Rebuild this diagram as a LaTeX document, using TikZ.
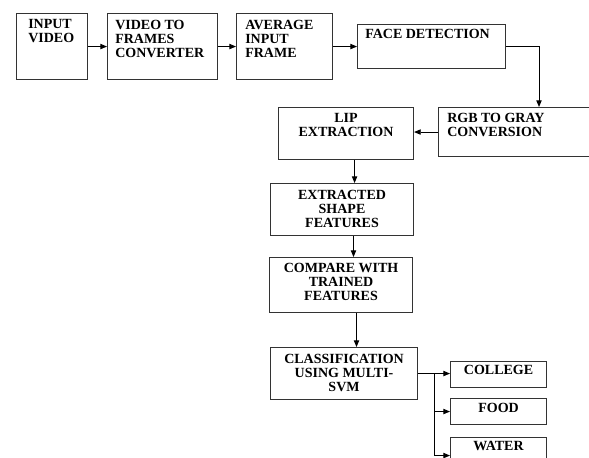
\documentclass[tikz,border=0pt]{standalone}
\usepackage{fontspec}
\setmainfont{Liberation Serif}
\usetikzlibrary{arrows.meta}

\tikzset{
  blk/.style={draw=black!80, line width=0.8pt, anchor=north west, inner sep=0pt},
  lbl/.style={inner sep=0pt, font=\fontsize{10.5}{10.5}\selectfont\bfseries},
  arr/.style={-{Triangle[length=5pt,width=4pt]}, line width=0.7pt},
}

\begin{document}
\begin{tikzpicture}[x=0.75pt,y=0.75pt,yscale=-1,xscale=1]
\clip (0,0) rectangle (589,457);

% Blocks
\node[blk, minimum width=53.25pt, minimum height=49.5pt] (vid) at (16,13) {};
\node[blk, minimum width=82.5pt, minimum height=49.5pt] (frm) at (107,13) {};
\node[blk, minimum width=72pt, minimum height=49.5pt] (avg) at (236,13) {};
\node[blk, minimum width=111pt, minimum height=33pt] (face) at (357,24) {};
\node[blk, minimum width=120pt, minimum height=36.75pt] (rgb) at (438,107) {};
\node[blk, minimum width=101.25pt, minimum height=39pt] (lip) at (278,107) {};
\node[blk, minimum width=107.25pt, minimum height=39pt] (ext) at (270,183) {};
\node[blk, minimum width=107.25pt, minimum height=41.25pt] (cmp) at (269,257) {};
\node[blk, minimum width=110.25pt, minimum height=39pt] (cls) at (270,347) {};
\node[blk, minimum width=72pt, minimum height=19.5pt] (col) at (450,361) {};
\node[blk, minimum width=72pt, minimum height=19.5pt] (food) at (450,398) {};
\node[blk, minimum width=72pt, minimum height=27pt] (wat) at (450,437) {};

% Text
\node[lbl, anchor=north west, align=left] (vidT) at ([shift={(12,6)}]vid.north west) {INPUT\\VIDEO};
\node[lbl, anchor=north west, align=left] (frmT) at ([shift={(8,7)}]frm.north west) {VIDEO TO\\FRAMES\\CONVERTER};
\node[lbl, anchor=north west, align=left] (avgT) at ([shift={(9,7)}]avg.north west) {AVERAGE\\INPUT\\FRAME};
\node[lbl, anchor=north west, align=left] (faceT) at ([shift={(8,5)}]face.north west) {FACE DETECTION};
\node[lbl, anchor=north west, align=left] (rgbT) at ([shift={(9,6)}]rgb.north west) {RGB TO GRAY\\CONVERSION};
\node[lbl, anchor=north, align=center] (lipT) at ([shift={(0,6)}]lip.north) {LIP\\EXTRACTION};
\node[lbl, anchor=north, align=center] (extT) at ([shift={(0,7)}]ext.north) {EXTRACTED\\SHAPE\\FEATURES};
\node[lbl, anchor=north, align=center] (cmpT) at ([shift={(0,6)}]cmp.north) {COMPARE WITH\\TRAINED\\FEATURES};
\node[lbl, anchor=north, align=center] (clsT) at ([shift={(0,7)}]cls.north) {CLASSIFICATION\\USING MULTI-\\SVM};
\node[lbl, anchor=north] (colT) at ([shift={(0,4)}]col.north) {COLLEGE};
\node[lbl, anchor=north] (foodT) at ([shift={(0,5)}]food.north) {FOOD};
\node[lbl, anchor=north] (watT) at ([shift={(0,4)}]wat.north) {WATER};

% Connectors
\draw[arr] (vid.east) -- (frm.west);
\draw[arr] (frm.east) -- (avg.west);
\draw[arr] (avg.east) -- (face.west);
\draw[arr] (face.east) -| ([xshift=75.75pt]rgb.north west);
\draw[arr] (rgb.west) -- (rgb.west -| lip.east);
\draw[arr] ([xshift=6.4pt]lip.south) -- ([xshift=6.4pt]lip.south |- ext.north);
\draw[arr] ([xshift=8.6pt]ext.south) -- ([xshift=8.6pt]ext.south |- cmp.north);
\draw[arr] ([xshift=11.6pt]cmp.south) -- ([xshift=11.6pt]cmp.south |- cls.north);
\draw[line width=0.7pt] (cls.east) -- ++(16,0) coordinate (fork);
\draw[arr] (fork) -- (fork -| col.west);
\draw[arr] (fork) |- (food.west);
\draw[arr] (fork) |- (wat.west);

\end{tikzpicture}
\end{document}
